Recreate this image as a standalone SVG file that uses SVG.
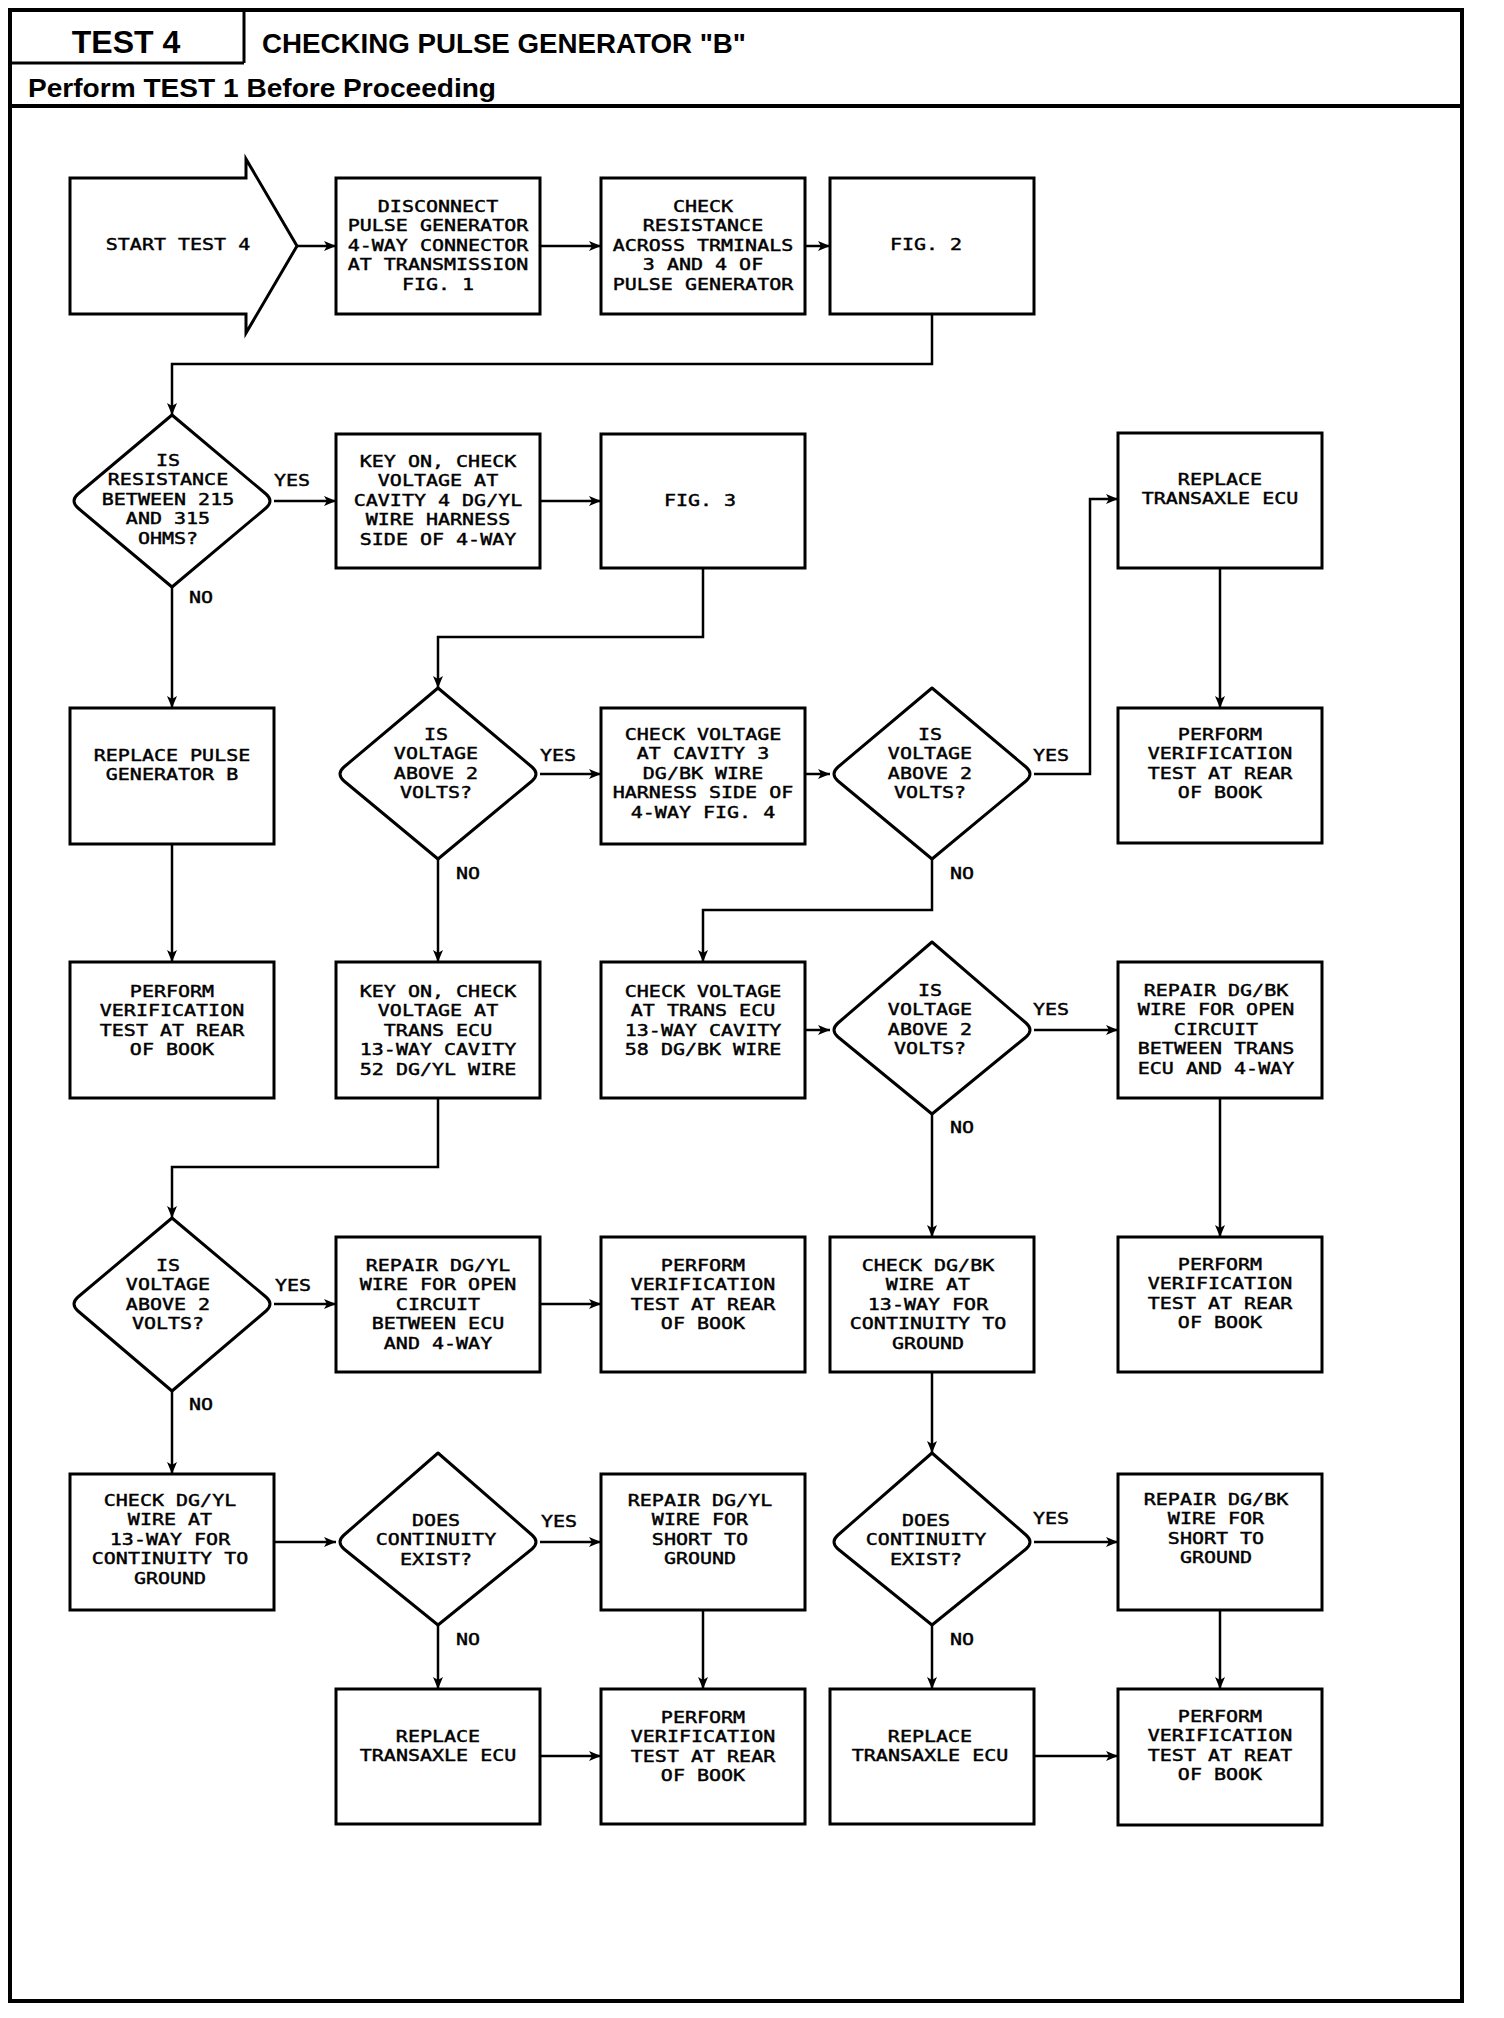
<svg xmlns="http://www.w3.org/2000/svg" width="1504" height="2018" viewBox="0 0 1504 2018">
<style>
.bx{fill:#fff;stroke:#000;stroke-width:3}
.dm{fill:#fff;stroke:#000;stroke-width:3;stroke-linejoin:round}
.t{font-family:"DejaVu Sans Mono","Liberation Mono",monospace;font-size:16.5px;text-anchor:middle;fill:#000;stroke:#000;stroke-width:0.45}
.l{font-family:"DejaVu Sans Mono","Liberation Mono",monospace;font-size:16.5px;text-anchor:middle;fill:#000;stroke:#000;stroke-width:0.45}
.c{fill:none;stroke:#000;stroke-width:2.5;marker-end:url(#ah)}
.h{font-family:"Liberation Sans",Arial,sans-serif;font-weight:bold;fill:#000}
</style>
<defs>
<marker id="ah" markerUnits="userSpaceOnUse" markerWidth="12" markerHeight="10" refX="12" refY="5" orient="auto">
<path d="M0,0 L12,5 L0,10 L3,5 z" fill="#000"/>
</marker>
</defs>
<rect x="0" y="0" width="1504" height="2018" fill="#fff"/>
<g id="frame">
<rect x="10" y="10" width="1452" height="1991" fill="none" stroke="#000" stroke-width="4"/>
<line x1="10" y1="63" x2="244" y2="63" stroke="#000" stroke-width="3"/>
<line x1="244" y1="10" x2="244" y2="63" stroke="#000" stroke-width="3"/>
<line x1="10" y1="106" x2="1462" y2="106" stroke="#000" stroke-width="4"/>
<text class="h" x="126" y="53" font-size="32" text-anchor="middle">TEST 4</text>
<text class="h" x="262" y="53" font-size="27.5" textLength="484" lengthAdjust="spacingAndGlyphs">CHECKING PULSE GENERATOR &quot;B&quot;</text>
<text class="h" x="28" y="97" font-size="26" textLength="468" lengthAdjust="spacingAndGlyphs">Perform TEST 1 Before Proceeding</text>
</g>
<g id="connectors">
<path class="c" d="M297,246 L336,246"/>
<path class="c" d="M540,246 L601,246"/>
<path class="c" d="M805,246 L830,246"/>
<path class="c" d="M932,314 L932,364 L172,364 L172,415"/>
<path class="c" d="M274,501 L336,501"/>
<path class="c" d="M540,501 L601,501"/>
<path class="c" d="M172,587 L172,708"/>
<path class="c" d="M703,568 L703,637 L438,637 L438,688"/>
<path class="c" d="M540,774 L601,774"/>
<path class="c" d="M805,774 L830,774"/>
<path class="c" d="M1034,774 L1090,774 L1090,499 L1118,499"/>
<path class="c" d="M1220,568 L1220,708"/>
<path class="c" d="M172,844 L172,962"/>
<path class="c" d="M438,859 L438,962"/>
<path class="c" d="M932,859 L932,910 L703,910 L703,962"/>
<path class="c" d="M805,1030 L830,1030"/>
<path class="c" d="M1034,1030 L1118,1030"/>
<path class="c" d="M438,1098 L438,1167 L172,1167 L172,1218"/>
<path class="c" d="M932,1114 L932,1237"/>
<path class="c" d="M1220,1098 L1220,1237"/>
<path class="c" d="M274,1304 L336,1304"/>
<path class="c" d="M540,1304 L601,1304"/>
<path class="c" d="M172,1391 L172,1474"/>
<path class="c" d="M932,1372 L932,1453"/>
<path class="c" d="M274,1542 L336,1542"/>
<path class="c" d="M540,1542 L601,1542"/>
<path class="c" d="M1034,1542 L1118,1542"/>
<path class="c" d="M438,1625 L438,1689"/>
<path class="c" d="M703,1610 L703,1689"/>
<path class="c" d="M932,1625 L932,1689"/>
<path class="c" d="M1220,1610 L1220,1689"/>
<path class="c" d="M540,1756 L601,1756"/>
<path class="c" d="M1034,1756 L1118,1756"/>
<text class="l" transform="translate(292 0) scale(1.212 1)" x="0" y="486">YES</text>
<text class="l" transform="translate(201 0) scale(1.212 1)" x="0" y="603">NO</text>
<text class="l" transform="translate(558 0) scale(1.212 1)" x="0" y="761">YES</text>
<text class="l" transform="translate(468 0) scale(1.212 1)" x="0" y="879">NO</text>
<text class="l" transform="translate(1051 0) scale(1.212 1)" x="0" y="761">YES</text>
<text class="l" transform="translate(962 0) scale(1.212 1)" x="0" y="879">NO</text>
<text class="l" transform="translate(1051 0) scale(1.212 1)" x="0" y="1015">YES</text>
<text class="l" transform="translate(962 0) scale(1.212 1)" x="0" y="1133">NO</text>
<text class="l" transform="translate(293 0) scale(1.212 1)" x="0" y="1291">YES</text>
<text class="l" transform="translate(201 0) scale(1.212 1)" x="0" y="1410">NO</text>
<text class="l" transform="translate(559 0) scale(1.212 1)" x="0" y="1527">YES</text>
<text class="l" transform="translate(468 0) scale(1.212 1)" x="0" y="1645">NO</text>
<text class="l" transform="translate(1051 0) scale(1.212 1)" x="0" y="1524">YES</text>
<text class="l" transform="translate(962 0) scale(1.212 1)" x="0" y="1645">NO</text>
</g>
<g id="start">
<path class="bx" d="M70,178 L246,178 L246,159 L297,246 L246,333 L246,314 L70,314 Z"/>
<text class="t" transform="translate(178 0) scale(1.212 1)" x="0" y="250">START TEST 4</text>
</g>
<g id="disconnect">
<rect class="bx" x="336" y="178" width="204" height="136"/>
<text class="t" transform="translate(438 0) scale(1.212 1)"><tspan x="0" y="212">DISCONNECT</tspan><tspan x="0" y="231.5">PULSE GENERATOR</tspan><tspan x="0" y="251">4-WAY CONNECTOR</tspan><tspan x="0" y="270.5">AT TRANSMISSION</tspan><tspan x="0" y="290">FIG. 1</tspan></text>
</g>
<g id="check-resistance">
<rect class="bx" x="601" y="178" width="204" height="136"/>
<text class="t" transform="translate(703 0) scale(1.212 1)"><tspan x="0" y="212">CHECK</tspan><tspan x="0" y="231.5">RESISTANCE</tspan><tspan x="0" y="251">ACROSS TRMINALS</tspan><tspan x="0" y="270.5">3 AND 4 OF</tspan><tspan x="0" y="290">PULSE GENERATOR</tspan></text>
</g>
<g id="fig2">
<rect class="bx" x="830" y="178" width="204" height="136"/>
<text class="t" transform="translate(926 0) scale(1.212 1)" x="0" y="250">FIG. 2</text>
</g>
<g id="d1">
<path class="dm" d="M172,415 L78,494 Q70,501 78,508 L172,587 L266,508 Q274,501 266,494 Z"/>
<text class="t" transform="translate(168 0) scale(1.212 1)"><tspan x="0" y="466">IS</tspan><tspan x="0" y="485.5">RESISTANCE</tspan><tspan x="0" y="505">BETWEEN 215</tspan><tspan x="0" y="524.5">AND 315</tspan><tspan x="0" y="544">OHMS?</tspan></text>
</g>
<g id="key-on-1">
<rect class="bx" x="336" y="434" width="204" height="134"/>
<text class="t" transform="translate(438 0) scale(1.212 1)"><tspan x="0" y="467">KEY ON, CHECK</tspan><tspan x="0" y="486.5">VOLTAGE AT</tspan><tspan x="0" y="506">CAVITY 4 DG/YL</tspan><tspan x="0" y="525.5">WIRE HARNESS</tspan><tspan x="0" y="545">SIDE OF 4-WAY</tspan></text>
</g>
<g id="fig3">
<rect class="bx" x="601" y="434" width="204" height="134"/>
<text class="t" transform="translate(700 0) scale(1.212 1)" x="0" y="506">FIG. 3</text>
</g>
<g id="replace-ecu-1">
<rect class="bx" x="1118" y="433" width="204" height="135"/>
<text class="t" transform="translate(1220 0) scale(1.212 1)"><tspan x="0" y="485">REPLACE</tspan><tspan x="0" y="504.5">TRANSAXLE ECU</tspan></text>
</g>
<g id="replace-pulse">
<rect class="bx" x="70" y="708" width="204" height="136"/>
<text class="t" transform="translate(172 0) scale(1.212 1)"><tspan x="0" y="761">REPLACE PULSE</tspan><tspan x="0" y="780.5">GENERATOR B</tspan></text>
</g>
<g id="d2">
<path class="dm" d="M438,688 L344,767 Q336,774 344,781 L438,859 L532,781 Q540,774 532,767 Z"/>
<text class="t" transform="translate(436 0) scale(1.212 1)"><tspan x="0" y="740">IS</tspan><tspan x="0" y="759.5">VOLTAGE</tspan><tspan x="0" y="779">ABOVE 2</tspan><tspan x="0" y="798.5">VOLTS?</tspan></text>
</g>
<g id="check-cav3">
<rect class="bx" x="601" y="708" width="204" height="136"/>
<text class="t" transform="translate(703 0) scale(1.212 1)"><tspan x="0" y="740">CHECK VOLTAGE</tspan><tspan x="0" y="759.5">AT CAVITY 3</tspan><tspan x="0" y="779">DG/BK WIRE</tspan><tspan x="0" y="798.5">HARNESS SIDE OF</tspan><tspan x="0" y="818">4-WAY FIG. 4</tspan></text>
</g>
<g id="d3">
<path class="dm" d="M932,688 L838,767 Q830,774 838,781 L932,859 L1026,781 Q1034,774 1026,767 Z"/>
<text class="t" transform="translate(930 0) scale(1.212 1)"><tspan x="0" y="740">IS</tspan><tspan x="0" y="759.5">VOLTAGE</tspan><tspan x="0" y="779">ABOVE 2</tspan><tspan x="0" y="798.5">VOLTS?</tspan></text>
</g>
<g id="perform-1">
<rect class="bx" x="1118" y="708" width="204" height="135"/>
<text class="t" transform="translate(1220 0) scale(1.212 1)"><tspan x="0" y="740">PERFORM</tspan><tspan x="0" y="759.5">VERIFICATION</tspan><tspan x="0" y="779">TEST AT REAR</tspan><tspan x="0" y="798.5">OF BOOK</tspan></text>
</g>
<g id="perform-2">
<rect class="bx" x="70" y="962" width="204" height="136"/>
<text class="t" transform="translate(172 0) scale(1.212 1)"><tspan x="0" y="997">PERFORM</tspan><tspan x="0" y="1016.5">VERIFICATION</tspan><tspan x="0" y="1036">TEST AT REAR</tspan><tspan x="0" y="1055.5">OF BOOK</tspan></text>
</g>
<g id="key-on-2">
<rect class="bx" x="336" y="962" width="204" height="136"/>
<text class="t" transform="translate(438 0) scale(1.212 1)"><tspan x="0" y="997">KEY ON, CHECK</tspan><tspan x="0" y="1016.5">VOLTAGE AT</tspan><tspan x="0" y="1036">TRANS ECU</tspan><tspan x="0" y="1055.5">13-WAY CAVITY</tspan><tspan x="0" y="1075">52 DG/YL WIRE</tspan></text>
</g>
<g id="check-trans-ecu">
<rect class="bx" x="601" y="962" width="204" height="136"/>
<text class="t" transform="translate(703 0) scale(1.212 1)"><tspan x="0" y="997">CHECK VOLTAGE</tspan><tspan x="0" y="1016.5">AT TRANS ECU</tspan><tspan x="0" y="1036">13-WAY CAVITY</tspan><tspan x="0" y="1055.5">58 DG/BK WIRE</tspan></text>
</g>
<g id="d4">
<path class="dm" d="M932,942 L838,1023 Q830,1030 838,1037 L932,1114 L1026,1037 Q1034,1030 1026,1023 Z"/>
<text class="t" transform="translate(930 0) scale(1.212 1)"><tspan x="0" y="996">IS</tspan><tspan x="0" y="1015.5">VOLTAGE</tspan><tspan x="0" y="1035">ABOVE 2</tspan><tspan x="0" y="1054.5">VOLTS?</tspan></text>
</g>
<g id="repair-dgbk-open">
<rect class="bx" x="1118" y="962" width="204" height="136"/>
<text class="t" transform="translate(1216 0) scale(1.212 1)"><tspan x="0" y="996">REPAIR DG/BK</tspan><tspan x="0" y="1015.5">WIRE FOR OPEN</tspan><tspan x="0" y="1035">CIRCUIT</tspan><tspan x="0" y="1054.5">BETWEEN TRANS</tspan><tspan x="0" y="1074">ECU AND 4-WAY</tspan></text>
</g>
<g id="d5">
<path class="dm" d="M172,1218 L78,1297 Q70,1304 78,1311 L172,1391 L266,1311 Q274,1304 266,1297 Z"/>
<text class="t" transform="translate(168 0) scale(1.212 1)"><tspan x="0" y="1271">IS</tspan><tspan x="0" y="1290.5">VOLTAGE</tspan><tspan x="0" y="1310">ABOVE 2</tspan><tspan x="0" y="1329.5">VOLTS?</tspan></text>
</g>
<g id="repair-dgyl-open">
<rect class="bx" x="336" y="1237" width="204" height="135"/>
<text class="t" transform="translate(438 0) scale(1.212 1)"><tspan x="0" y="1271">REPAIR DG/YL</tspan><tspan x="0" y="1290.5">WIRE FOR OPEN</tspan><tspan x="0" y="1310">CIRCUIT</tspan><tspan x="0" y="1329.5">BETWEEN ECU</tspan><tspan x="0" y="1349">AND 4-WAY</tspan></text>
</g>
<g id="perform-3">
<rect class="bx" x="601" y="1237" width="204" height="135"/>
<text class="t" transform="translate(703 0) scale(1.212 1)"><tspan x="0" y="1271">PERFORM</tspan><tspan x="0" y="1290.5">VERIFICATION</tspan><tspan x="0" y="1310">TEST AT REAR</tspan><tspan x="0" y="1329.5">OF BOOK</tspan></text>
</g>
<g id="check-dgbk">
<rect class="bx" x="830" y="1237" width="204" height="135"/>
<text class="t" transform="translate(928 0) scale(1.212 1)"><tspan x="0" y="1271">CHECK DG/BK</tspan><tspan x="0" y="1290.5">WIRE AT</tspan><tspan x="0" y="1310">13-WAY FOR</tspan><tspan x="0" y="1329.5">CONTINUITY TO</tspan><tspan x="0" y="1349">GROUND</tspan></text>
</g>
<g id="perform-4">
<rect class="bx" x="1118" y="1237" width="204" height="135"/>
<text class="t" transform="translate(1220 0) scale(1.212 1)"><tspan x="0" y="1270">PERFORM</tspan><tspan x="0" y="1289.5">VERIFICATION</tspan><tspan x="0" y="1309">TEST AT REAR</tspan><tspan x="0" y="1328.5">OF BOOK</tspan></text>
</g>
<g id="check-dgyl">
<rect class="bx" x="70" y="1474" width="204" height="136"/>
<text class="t" transform="translate(170 0) scale(1.212 1)"><tspan x="0" y="1506">CHECK DG/YL</tspan><tspan x="0" y="1525.5">WIRE AT</tspan><tspan x="0" y="1545">13-WAY FOR</tspan><tspan x="0" y="1564.5">CONTINUITY TO</tspan><tspan x="0" y="1584">GROUND</tspan></text>
</g>
<g id="d6">
<path class="dm" d="M438,1453 L344,1535 Q336,1542 344,1549 L438,1625 L532,1549 Q540,1542 532,1535 Z"/>
<text class="t" transform="translate(436 0) scale(1.212 1)"><tspan x="0" y="1526">DOES</tspan><tspan x="0" y="1545.5">CONTINUITY</tspan><tspan x="0" y="1565">EXIST?</tspan></text>
</g>
<g id="repair-dgyl-short">
<rect class="bx" x="601" y="1474" width="204" height="136"/>
<text class="t" transform="translate(700 0) scale(1.212 1)"><tspan x="0" y="1506">REPAIR DG/YL</tspan><tspan x="0" y="1525.5">WIRE FOR</tspan><tspan x="0" y="1545">SHORT TO</tspan><tspan x="0" y="1564.5">GROUND</tspan></text>
</g>
<g id="d7">
<path class="dm" d="M932,1453 L838,1535 Q830,1542 838,1549 L932,1625 L1026,1549 Q1034,1542 1026,1535 Z"/>
<text class="t" transform="translate(926 0) scale(1.212 1)"><tspan x="0" y="1526">DOES</tspan><tspan x="0" y="1545.5">CONTINUITY</tspan><tspan x="0" y="1565">EXIST?</tspan></text>
</g>
<g id="repair-dgbk-short">
<rect class="bx" x="1118" y="1474" width="204" height="136"/>
<text class="t" transform="translate(1216 0) scale(1.212 1)"><tspan x="0" y="1505">REPAIR DG/BK</tspan><tspan x="0" y="1524.5">WIRE FOR</tspan><tspan x="0" y="1544">SHORT TO</tspan><tspan x="0" y="1563.5">GROUND</tspan></text>
</g>
<g id="replace-ecu-2">
<rect class="bx" x="336" y="1689" width="204" height="135"/>
<text class="t" transform="translate(438 0) scale(1.212 1)"><tspan x="0" y="1742">REPLACE</tspan><tspan x="0" y="1761.5">TRANSAXLE ECU</tspan></text>
</g>
<g id="perform-5">
<rect class="bx" x="601" y="1689" width="204" height="135"/>
<text class="t" transform="translate(703 0) scale(1.212 1)"><tspan x="0" y="1723">PERFORM</tspan><tspan x="0" y="1742.5">VERIFICATION</tspan><tspan x="0" y="1762">TEST AT REAR</tspan><tspan x="0" y="1781.5">OF BOOK</tspan></text>
</g>
<g id="replace-ecu-3">
<rect class="bx" x="830" y="1689" width="204" height="135"/>
<text class="t" transform="translate(930 0) scale(1.212 1)"><tspan x="0" y="1742">REPLACE</tspan><tspan x="0" y="1761.5">TRANSAXLE ECU</tspan></text>
</g>
<g id="perform-6">
<rect class="bx" x="1118" y="1689" width="204" height="136"/>
<text class="t" transform="translate(1220 0) scale(1.212 1)"><tspan x="0" y="1722">PERFORM</tspan><tspan x="0" y="1741.5">VERIFICATION</tspan><tspan x="0" y="1761">TEST AT REAT</tspan><tspan x="0" y="1780.5">OF BOOK</tspan></text>
</g>
</svg>
